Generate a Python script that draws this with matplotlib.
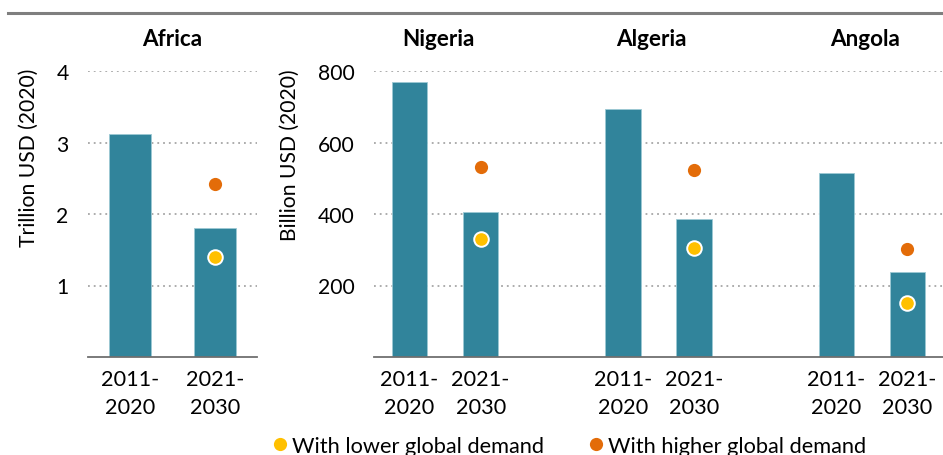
import matplotlib
matplotlib.use("Agg")
import matplotlib.pyplot as plt
from matplotlib.lines import Line2D

plt.rcParams['font.family'] = ['Lato', 'DejaVu Sans']

# Africa totals (trillion USD 2020)
africa_periods = ["2011-\n2020", "2021-\n2030"]
africa_values = [3.12, 1.81]
africa_lower = 1.40
africa_higher = 2.42

# Country totals (billion USD 2020)
countries = ["Nigeria", "Algeria", "Angola"]
periods = ["2011-\n2020", "2021-\n2030"]
past_values = [770, 693, 516]
future_values = [405, 385, 239]
lower_demand = [329, 305, 151]
higher_demand = [532, 523, 302]

BAR = "#31849B"
BAR_EDGE = "#9CC9D4"
ORANGE = "#E36C09"
YELLOW = "#FFC000"
GRID = "#A6A6A6"
BASE = "#6F6F6F"
FS = 15.2

fig = plt.figure(figsize=(9.43, 4.56), dpi=100)
W, H = 943, 456


def px_axes(x0, x1, ytop, ybot):
    return fig.add_axes([x0 / W, (H - ybot) / H, (x1 - x0) / W, (ybot - ytop) / H])


def style(ax, ymax, ticks):
    ax.set_ylim(0, ymax)
    ax.set_yticks(ticks)
    ax.set_yticklabels([str(t) for t in ticks], fontsize=FS)
    for s in ["left", "right", "top"]:
        ax.spines[s].set_visible(False)
    ax.spines["bottom"].set_color(BASE)
    ax.spines["bottom"].set_linewidth(1.3)
    ax.tick_params(axis="y", length=0, pad=14)
    ax.tick_params(axis="x", length=0, pad=9, labelsize=FS + 0.4)
    ax.grid(axis="y", color=GRID, linestyle=(0, (1, 2.2)), linewidth=1.3)
    ax.set_axisbelow(True)
    for lab in ax.get_xticklabels():
        lab.set_linespacing(1.5)


# Left panel: Africa
ax1 = px_axes(88, 257, 72, 358)
x1 = [0, 1]
ax1.bar(x1, africa_values, width=0.5, color=BAR, edgecolor=BAR_EDGE, linewidth=0.6, zorder=2)
ax1.plot([1], [africa_higher], "o", color=ORANGE, markersize=9.5, markeredgewidth=0, zorder=3)
ax1.plot([1], [africa_lower], "o", color=YELLOW, markersize=10.5, markeredgecolor="white",
         markeredgewidth=1.4, zorder=3)
ax1.set_xlim(-0.5, 1.5)
ax1.set_xticks(x1)
ax1.set_xticklabels(africa_periods)
style(ax1, 4, [1, 2, 3, 4])

# Right panel: countries
ax2 = px_axes(374, 943, 72, 358)
xs_past = [3 * i for i in range(len(countries))]
xs_future = [3 * i + 1 for i in range(len(countries))]
ax2.bar(xs_past, past_values, width=0.5, color=BAR, edgecolor=BAR_EDGE, linewidth=0.6, zorder=2)
ax2.bar(xs_future, future_values, width=0.5, color=BAR, edgecolor=BAR_EDGE, linewidth=0.6, zorder=2)
ax2.plot(xs_future, higher_demand, "o", color=ORANGE, markersize=9.5, markeredgewidth=0,
         linestyle="none", zorder=3)
ax2.plot(xs_future, lower_demand, "o", color=YELLOW, markersize=10.5, markeredgecolor="white",
         markeredgewidth=1.4, linestyle="none", zorder=3)
ax2.set_xlim(-0.5, 7.5)
ticks = sorted(xs_past + xs_future)
ax2.set_xticks(ticks)
ax2.set_xticklabels(periods * len(countries))
style(ax2, 800, [200, 400, 600, 800])

# Panel titles
ax1.text(0.5, 1.0 + 32 / 286, "Africa", transform=ax1.transAxes, ha="center", va="center",
         fontsize=FS + 1, fontweight="bold")
for i, name in enumerate(countries):
    ax2.text(3 * i + 0.4, 800 * (1 + 32 / 286), name, ha="center", va="center",
             fontsize=FS + 1, fontweight="bold", clip_on=False)

# Axis titles, aligned with the top of the plotting area
fig.text(29 / W, (H - 69) / H, "Trillion USD (2020)", rotation=90, ha="center", va="top",
         fontsize=FS)
fig.text(290 / W, (H - 69) / H, "Billion USD (2020)", rotation=90, ha="center", va="top",
         fontsize=FS)

# Rule across the top
fig.add_artist(Line2D([8 / W, 1.0], [(H - 14) / H] * 2, color="#7F7F7F", linewidth=2.2))

# Legend
handles = [
    Line2D([], [], marker="o", linestyle="none", color=YELLOW, markersize=9.5, markeredgewidth=0),
    Line2D([], [], marker="o", linestyle="none", color=ORANGE, markersize=9.5, markeredgewidth=0),
]
fig.legend(handles, ["With lower global demand", "With higher global demand"],
           loc="center", bbox_to_anchor=(569 / W, (H - 447) / H), ncol=2, frameon=False,
           fontsize=FS + 0.5, handletextpad=0.15, columnspacing=2.0, handlelength=0.8)

fig.savefig("out.png", dpi=100)
